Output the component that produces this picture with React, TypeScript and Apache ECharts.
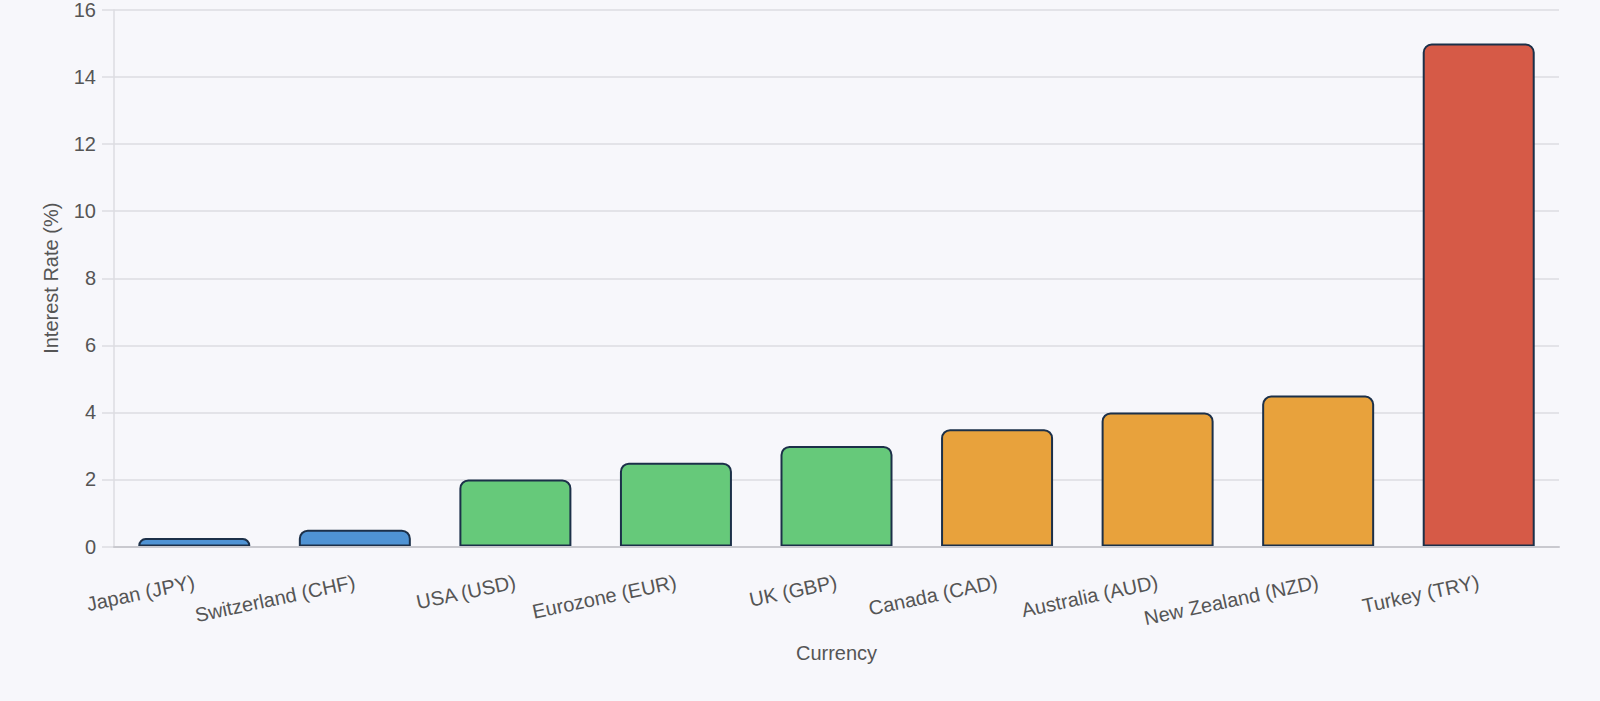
import React, { useEffect, useRef } from "react";
import * as echarts from "echarts";

const categories = [
  "Japan (JPY)",
  "Switzerland (CHF)",
  "USA (USD)",
  "Eurozone (EUR)",
  "UK (GBP)",
  "Canada (CAD)",
  "Australia (AUD)",
  "New Zealand (NZD)",
  "Turkey (TRY)",
];
const rates = [0.25, 0.5, 2.0, 2.5, 3.0, 3.5, 4.0, 4.5, 15.0];
const tiers = ["low", "low", "medium", "medium", "medium", "high", "high", "high", "extreme"];
const yMin = 0;
const yMax = 16;
const yStep = 2;

const tierColors: Record<string, string> = {
  low: "#4f93d4",
  medium: "#66c97a",
  high: "#e8a23c",
  extreme: "#d65a47",
};

const FONT = "'Liberation Sans', Arial, Helvetica, sans-serif";

export default function App() {
  const ref = useRef<HTMLDivElement>(null);

  useEffect(() => {
    document.body.style.margin = "0";
    document.body.style.background = "#f7f7fb";
    if (!ref.current) return;
    const chart = echarts.init(ref.current, undefined, { renderer: "svg" });
    chart.setOption({
      animation: false,
      backgroundColor: "#f7f7fb",
      textStyle: { fontFamily: FONT },
      grid: { left: 114, right: 41, top: 6.5, bottom: 154.5, containLabel: false },
      xAxis: {
        type: "category",
        data: categories,
        z: 10,
        name: "Currency",
        nameLocation: "middle",
        nameGap: 96,
        nameTextStyle: { color: "#555", fontSize: 20, fontFamily: FONT },
        axisLine: { show: true, lineStyle: { color: "#c9c9cf", width: 2 } },
        axisTick: { show: false },
        splitLine: { show: false },
        axisLabel: {
          rotate: 12,
          margin: 35,
          color: "#555",
          fontSize: 20,
          fontFamily: FONT,
          interval: 0,
        },
      },
      yAxis: {
        type: "value",
        min: yMin,
        max: yMax,
        interval: yStep,
        name: "Interest Rate (%)",
        nameLocation: "middle",
        nameGap: 53,
        nameTextStyle: { color: "#555", fontSize: 20, fontFamily: FONT },
        axisLine: { show: true, lineStyle: { color: "#dcdce2", width: 1.5 } },
        axisTick: { show: true, length: 12, lineStyle: { color: "#dcdce2", width: 1.5 } },
        splitLine: { show: true, lineStyle: { color: "#dcdce2", width: 1.5 } },
        axisLabel: { color: "#555", fontSize: 20, fontFamily: FONT, margin: 18 },
      },
      series: [
        {
          type: "bar",
          barWidth: 112,
          data: rates.map((v, i) => ({
            value: v,
            itemStyle: {
              color: tierColors[tiers[i]],
              borderColor: "#1c3049",
              borderWidth: 2,
              borderRadius: [8, 8, 0, 0],
            },
          })),
        },
      ],
    });
    return () => chart.dispose();
  }, []);

  return <div ref={ref} style={{ width: 1600, height: 701 }} />;
}
